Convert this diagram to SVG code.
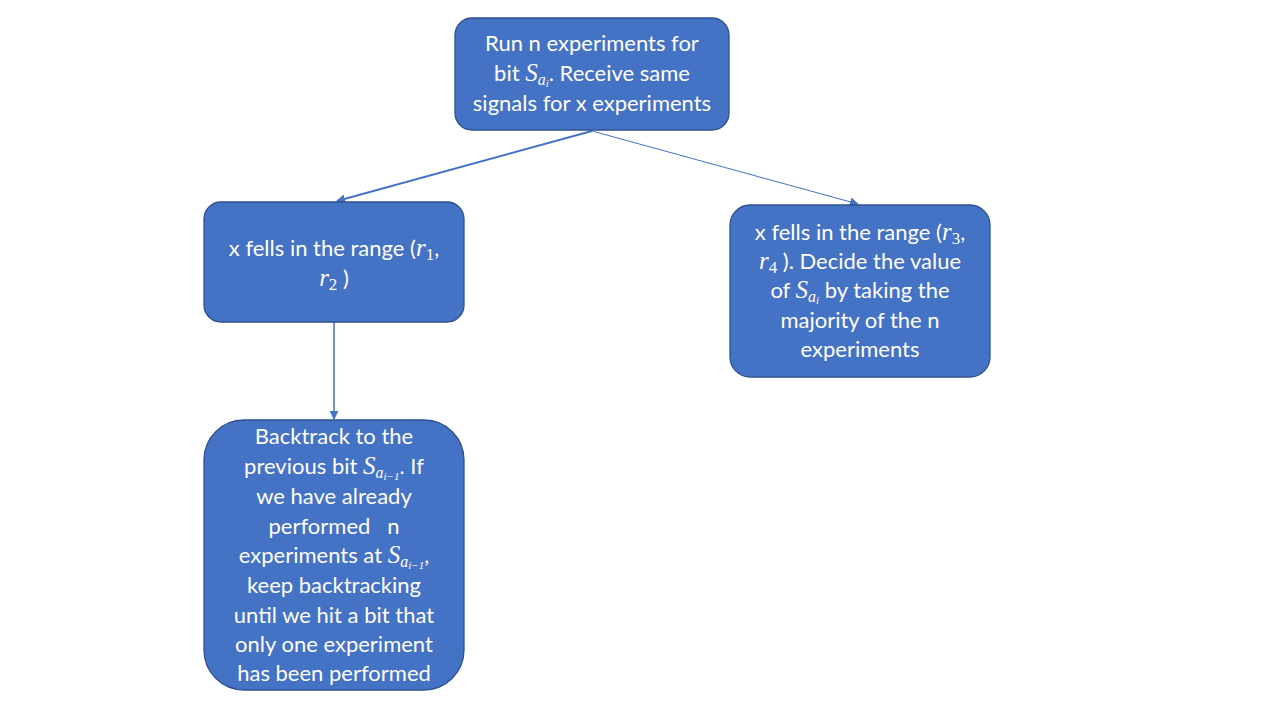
<svg xmlns="http://www.w3.org/2000/svg" width="1280" height="720" viewBox="0 0 1280 720">
<defs>
<style>
.box{fill:#4472C4;stroke:#2F528F;stroke-width:1.3}
.t{font-family:Lato,"Open Sans","Liberation Sans",sans-serif;font-size:22px;fill:#fff;text-anchor:middle}
.m{font-family:"Liberation Serif","DejaVu Serif",serif;font-style:italic}
.big{font-size:25px}
.sub{font-size:16px}
.sub2{font-size:11px}
.d{font-family:"Liberation Serif","DejaVu Serif",serif;font-size:17px}
.c{stroke:#4472C4;fill:none}
</style>
<marker id="ah2" viewBox="0 0 10 10" refX="9" refY="5" markerWidth="9" markerHeight="9" orient="auto" markerUnits="userSpaceOnUse">
<path d="M0,0 L10,5 L0,10 z" fill="#4472C4"/>
</marker>
</defs>
<rect width="1280" height="720" fill="#fff"/>
<g id="connectors">
<line class="c" x1="592" y1="131" x2="337" y2="201" stroke-width="2" marker-end="url(#ah2)"/>
<line class="c" x1="592" y1="131" x2="858" y2="204" stroke-width="1" marker-end="url(#ah2)"/>
<line class="c" x1="334" y1="322" x2="334" y2="419" stroke-width="1.5" marker-end="url(#ah2)"/>
</g>
<g id="n1">
<rect class="box" x="455" y="18" width="274" height="112" rx="17"/>
<text class="t" x="592" y="51">Run n experiments for</text>
<text class="t" x="592" y="81">bit <tspan class="m big">S</tspan><tspan class="m sub" dy="4">a</tspan><tspan class="m sub2" dy="2">i</tspan><tspan dy="-6">. Receive same</tspan></text>
<text class="t" x="592" y="111">signals for x experiments</text>
</g>
<g id="n2">
<rect class="box" x="204" y="202" width="260" height="120" rx="17"/>
<text class="t" x="334" y="256">x fells in the range (<tspan class="m big">r</tspan><tspan class="d" dy="4">1</tspan><tspan dy="-4">,</tspan></text>
<text class="t" x="334" y="286"><tspan class="m big">r</tspan><tspan class="d" dy="4">2</tspan><tspan dy="-4"> )</tspan></text>
</g>
<g id="n3">
<rect class="box" x="730" y="205" width="260" height="172" rx="20"/>
<text class="t" x="860" y="240">x fells in the range (<tspan class="m big">r</tspan><tspan class="d" dy="4">3</tspan><tspan dy="-4">,</tspan></text>
<text class="t" x="860" y="269"><tspan class="m big">r</tspan><tspan class="d" dy="4">4</tspan><tspan dy="-4"> ). Decide the value</tspan></text>
<text class="t" x="860" y="298">of <tspan class="m big">S</tspan><tspan class="m sub" dy="4">a</tspan><tspan class="m sub2" dy="2">i</tspan><tspan dy="-6"> by taking the</tspan></text>
<text class="t" x="860" y="328">majority of the n</text>
<text class="t" x="860" y="357">experiments</text>
</g>
<g id="n4">
<rect class="box" x="204" y="420" width="260" height="270" rx="40"/>
<text class="t" x="334" y="444">Backtrack to the</text>
<text class="t" x="334" y="474">previous bit <tspan class="m big">S</tspan><tspan class="m sub" dy="4">a</tspan><tspan class="m sub2" dy="2">i−1</tspan><tspan dy="-6">. If</tspan></text>
<text class="t" x="334" y="504">we have already</text>
<text class="t" x="334" y="534" xml:space="preserve">performed   n</text>
<text class="t" x="334" y="563">experiments at <tspan class="m big">S</tspan><tspan class="m sub" dy="4">a</tspan><tspan class="m sub2" dy="2">i−1</tspan><tspan dy="-6">,</tspan></text>
<text class="t" x="334" y="593">keep backtracking</text>
<text class="t" x="334" y="623">until we hit a bit that</text>
<text class="t" x="334" y="652">only one experiment</text>
<text class="t" x="334" y="681">has been performed</text>
</g>
</svg>
